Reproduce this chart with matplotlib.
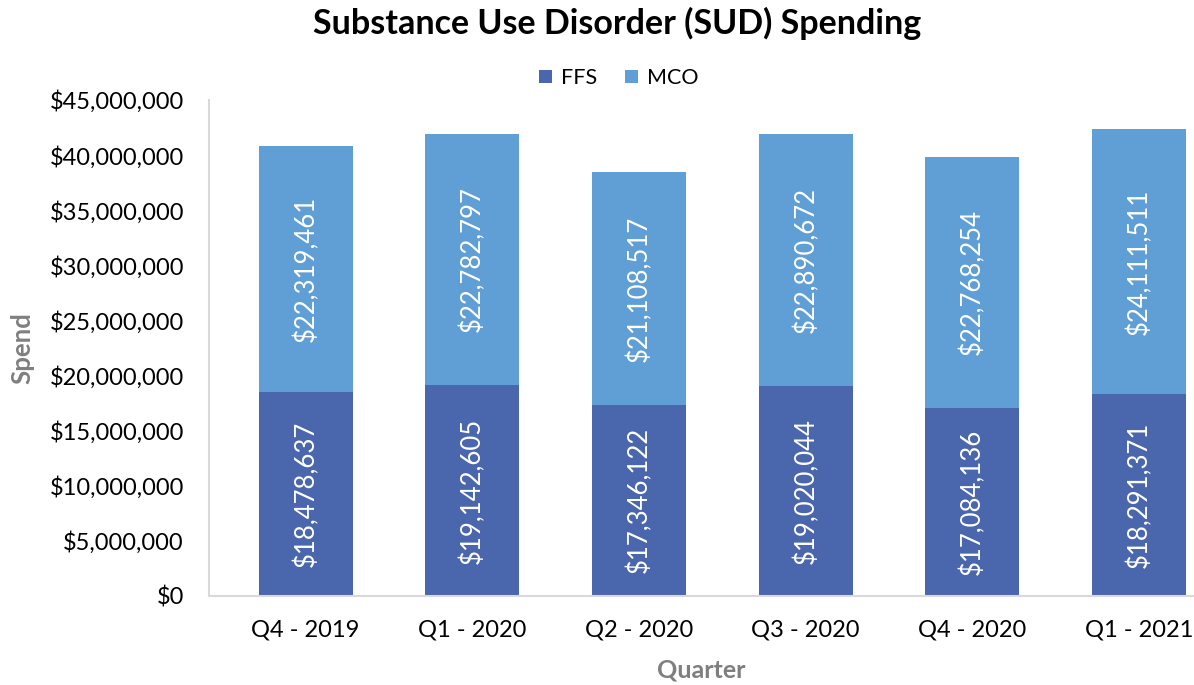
import numpy as np
import matplotlib.pyplot as plt
from matplotlib.ticker import FuncFormatter

# DATOS
trimestres = ['Q4 - 2019', 'Q1 - 2020', 'Q2 - 2020', 'Q3 - 2020', 'Q4 - 2020', 'Q1 - 2021']
ffs = [18478637, 19142605, 17346122, 19020044, 17084136, 18291371]
mco = [22319461, 22782797, 21108517, 22890672, 22768254, 24111511]

color_ffs = '#4A66AC'
color_mco = '#5F9FD5'

plt.rcParams['font.family'] = ['Lato', 'DejaVu Sans']

fig, ax = plt.subplots(figsize=(11.94, 6.85), dpi=100)
fig.subplots_adjust(left=0.175, right=1.0, top=0.854, bottom=0.13)

x = np.arange(len(trimestres))
ancho = 0.565
ax.bar(x, ffs, ancho, color=color_ffs, label='FFS')
ax.bar(x, mco, ancho, bottom=ffs, color=color_mco, label='MCO')

# etiquetas dentro de las barras
for i in range(len(x)):
    ax.text(x[i], ffs[i] / 2, '${:,}'.format(ffs[i]), rotation=90,
            ha='center', va='center', color='white', fontsize=18.5)
    ax.text(x[i], ffs[i] + mco[i] / 2, '${:,}'.format(mco[i]), rotation=90,
            ha='center', va='center', color='white', fontsize=18.5)

ax.set_ylim(0, 45000000)
ax.set_yticks(np.arange(0, 45000001, 5000000))
ax.yaxis.set_major_formatter(FuncFormatter(lambda v, p: '${:,.0f}'.format(v)))
ax.set_xlim(-0.58, 5.33)
ax.set_xticks(x)
ax.set_xticklabels(trimestres)
ax.tick_params(axis='both', length=0, labelsize=17, colors='black')
ax.tick_params(axis='x', pad=17)
ax.tick_params(axis='y', pad=18)

for lado in ['top', 'right']:
    ax.spines[lado].set_visible(False)
for lado in ['left', 'bottom']:
    ax.spines[lado].set_color('#D9D9D9')
    ax.spines[lado].set_linewidth(1.5)

ax.set_xlabel('Quarter', fontsize=18, fontweight='bold', color='#7F7F7F', labelpad=13)
ax.set_ylabel('Spend', fontsize=18.5, fontweight='bold', color='#7F7F7F', labelpad=11)

fig.suptitle('Substance Use Disorder (SUD) Spending', fontsize=24.5, fontweight='bold',
             x=0.517, y=0.99)
ax.legend(loc='center', bbox_to_anchor=(0.416, 1.044), ncol=2, frameon=False,
          fontsize=15.5, handlelength=0.6, handleheight=0.6, columnspacing=1.3,
          handletextpad=0.4)

plt.savefig('out.png', dpi=100)
